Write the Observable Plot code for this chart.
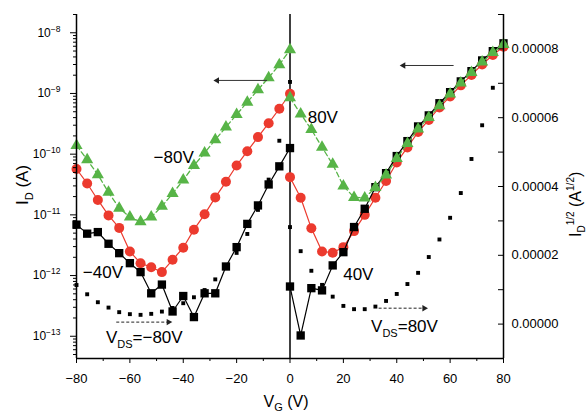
<!DOCTYPE html>
<html><head><meta charset="utf-8">
<script src="https://cdn.jsdelivr.net/npm/d3@7"></script>
<script src="https://cdn.jsdelivr.net/npm/@observablehq/plot@0.6"></script>
<style>
body{margin:0;background:#fff;}
#chart svg{font-family:"Liberation Sans",Arial,sans-serif;}
</style></head><body><div id="chart"></div>
<script>
// Gate voltage sweeps (V)
const vgNeg = [-80,-76,-72,-68,-64,-60,-56,-52,-48,-44,-40,-36,-32,-28,-24,-20,-16,-12,-8,-4,0];
const vgPos = [0,4,8,12,16,20,24,28,32,36,40,44,48,52,56,60,64,68,72,76,80];

// I_D (A), |V_DS| = 80 V (green triangles)
const id80neg = [1.39e-10,8.1e-11,4.6e-11,2.35e-11,1.29e-11,9.2e-12,7.7e-12,9.2e-12,1.38e-11,2.24e-11,3.76e-11,6.5e-11,1.05e-10,1.73e-10,2.79e-10,4.5e-10,7.2e-10,1.15e-9,1.82e-9,2.97e-9,5.25e-9];
const id80pos = [8.5e-10,4.6e-10,2.55e-10,1.3e-10,6.8e-11,3.0e-11,1.94e-11,1.9e-11,2.83e-11,4.54e-11,8.5e-11,1.5e-10,2.6e-10,4.03e-10,6.3e-10,9.8e-10,1.49e-9,2.22e-9,3.3e-9,4.73e-9,6.4e-9];
// I_D (A), intermediate |V_DS| (red circles)
const id60neg = [5.7e-11,3.29e-11,1.76e-11,9.8e-12,6.1e-12,2.49e-12,1.6e-12,1.37e-12,1.14e-12,1.82e-12,2.87e-12,5.7e-12,1.02e-11,1.94e-11,3.5e-11,6.5e-11,1.12e-10,1.91e-10,3.24e-10,5.6e-10,9.9e-10];
const id60pos = [4.18e-11,1.91e-11,6.0e-12,2.49e-12,2.38e-12,2.94e-12,5.4e-12,1.0e-11,1.91e-11,3.62e-11,7.3e-11,1.29e-10,2.32e-10,3.66e-10,5.9e-10,8.9e-10,1.36e-9,2.02e-9,3.0e-9,4.3e-9,5.9e-9];
// I_D (A), |V_DS| = 40 V (black squares)
const id40neg = [6.9e-12,4.9e-12,5.2e-12,3.34e-12,2.34e-12,1.6e-12,1.14e-12,5.1e-13,7.1e-13,2.56e-13,4.6e-13,2.07e-13,5.1e-13,5.1e-13,1.41e-12,2.94e-12,7.1e-12,1.43e-11,3.17e-11,6.3e-11,1.26e-10];
const id40pos = [6.6e-13,1.03e-13,6.2e-13,5.7e-13,1.47e-12,2.43e-12,6.3e-12,1.26e-11,2.86e-11,4.86e-11,9.3e-11,1.64e-10,2.86e-10,4.35e-10,6.9e-10,1.05e-9,1.58e-9,2.33e-9,3.5e-9,4.98e-9,6.7e-9];
// I_D^(1/2) (A^(1/2)), |V_DS| = 80 V (small squares, right axis)
const sqrtNeg = [1.136e-5,8.67e-6,6.36e-6,4.8e-6,3.47e-6,2.89e-6,2.69e-6,2.98e-6,3.64e-6,4.7e-6,6.07e-6,7.8e-6,9.9e-6,1.3e-5,1.68e-5,2.07e-5,2.62e-5,3.32e-5,4.2e-5,5.33e-5,7.04e-5];
const sqrtPos = [2.82e-5,2.12e-5,1.55e-5,1.14e-5,7.98e-6,5.29e-6,4.34e-6,4.34e-6,5.09e-6,6.73e-6,8.76e-6,1.165e-5,1.49e-5,1.95e-5,2.46e-5,3.09e-5,3.81e-5,4.8e-5,5.78e-5,6.87e-5,8.0e-5];

// Axes
const xTicks = [-80,-60,-40,-20,0,20,40,60,80];
const xMinor = [-70,-50,-30,-10,10,30,50,70];
const leftDecades = [1e-8,1e-9,1e-10,1e-11,1e-12,1e-13];
const leftExponents = ["−8","−9","−10","−11","−12","−13"];
const leftMinorMult = [2,3,4,5,6,7,8,9];
const rightTicks = [0,2e-5,4e-5,6e-5,8e-5];
const rightLabels = ["0.00000","0.00002","0.00004","0.00006","0.00008"];
const rightMinor = [-1e-5,1e-5,3e-5,5e-5,7e-5,9e-5];
const leftDomain = [4.3e-14, 2e-8];
const rightDomain = [-1e-5, 9e-5];

// Annotations
const annText = ["−80V","80V","−40V","40V","VDS=−80V","VDS=80V"];
const annX = [-43.6, 12.3, -70.1, 25.6, -54.6, 42.9];
const annY = [8.95e-11, 3.94e-10, 1.14e-12, 1.02e-12, 9.4e-14, 1.42e-13];
const arrX1 = [-8.6, 61.3, -65.1, 33.2];
const arrX2 = [-27.3, 42.5, -45.5, 50.3];
const arrY = [1.64e-9, 2.89e-9, 1.71e-13, 2.9e-13];
const arrDashed = [false, false, true, true];

// map right-axis values onto the left (log) scale
const LT = Math.log10(leftDomain[1]), LB = Math.log10(leftDomain[0]);
const toLeft = v => 10 ** (LT - (rightDomain[1] - v) / (rightDomain[1] - rightDomain[0]) * (LT - LB));

const rows = (vg, vals, sweep) => vg.map((x, i) => ({vg: x, v: vals[i], sweep}));
const green = [...rows(vgNeg, id80neg, "n"), ...rows(vgPos, id80pos, "p")];
const red = [...rows(vgNeg, id60neg, "n"), ...rows(vgPos, id60pos, "p")];
const black = [...rows(vgNeg, id40neg, "n"), ...rows(vgPos, id40pos, "p")];
const sq = [...rows(vgNeg, sqrtNeg, "n"), ...rows(vgPos, sqrtPos, "p")];

const leftMinor = [];
for (const d of [1e-14,1e-13,1e-12,1e-11,1e-10,1e-9,1e-8]) for (const m of leftMinorMult) { const v = m*d; if (v >= leftDomain[0] && v <= leftDomain[1]*1.0001) leftMinor.push(v); }

const leftMap = new Map(leftDecades.map((t, i) => [t, "10|" + leftExponents[i]]));
const rightLab = rightTicks.map((t, i) => ({t, label: rightLabels[i]}));

const ann = annText.map((t, i) => ({t, x: annX[i], y: annY[i]}));
const arrows = arrX1.map((x1, i) => ({x1, x2: arrX2[i], y: arrY[i], dashed: arrDashed[i], dir: arrX2[i] > x1 ? 90 : -90}));

const GREEN = "#57b447", RED = "#ec3a2e";
const frameW = 587 - 76 - 84;

const chart = Plot.plot({
  width: 587, height: 413,
  marginLeft: 76, marginRight: 84, marginTop: 14, marginBottom: 55,
  style: {fontSize: "13px", color: "black", background: "white", overflow: "visible"},
  x: {domain: [-80, 80], label: null},
  y: {type: "log", domain: leftDomain, label: null},
  marks: [
    Plot.ruleX([0], {stroke: "black", strokeWidth: 1.5}),
    Plot.dot(sq, {x: "vg", y: d => toLeft(d.v), symbol: "square", r: 2.2, fill: "black"}),
    Plot.line(red, {x: "vg", y: "v", z: "sweep", stroke: RED, strokeWidth: 1.2}),
    Plot.dot(red, {x: "vg", y: "v", r: 5, fill: RED}),
    Plot.line(black, {x: "vg", y: "v", z: "sweep", stroke: "black", strokeWidth: 1.2}),
    Plot.dot(black, {x: "vg", y: "v", symbol: "square", r: 4.7, fill: "black"}),
    Plot.line(green, {x: "vg", y: "v", z: "sweep", stroke: GREEN, strokeWidth: 1.3, strokeDasharray: "5,3"}),
    Plot.dot(green, {x: "vg", y: "v", symbol: "triangle", r: 4.5, fill: GREEN}),
    Plot.link(arrows.filter(d => !d.dashed), {x1: "x1", x2: "x2", y1: "y", y2: "y", stroke: "#333", strokeWidth: 1}),
    Plot.link(arrows.filter(d => d.dashed), {x1: "x1", x2: "x2", y1: "y", y2: "y", stroke: "#222", strokeWidth: 1, strokeDasharray: "3,2"}),
    Plot.dot(arrows, {x: "x2", y: "y", symbol: "triangle", r: 2.4, rotate: "dir", fill: "#222"}),
    Plot.text(ann, {x: "x", y: "y", text: "t", fontSize: 17, fill: "black"}),
    Plot.ruleX([-80, 80], {stroke: "black", strokeWidth: 1.5}),
    Plot.ruleY([leftDomain[0]], {stroke: "black", strokeWidth: 1.5}),
    Plot.axisX(xTicks, {tickSize: 5, tickPadding: 10, label: null, fontSize: 13}),
    Plot.axisX(xMinor, {tickSize: 3, tickFormat: () => "", label: null}),
    Plot.axisY(leftDecades, {anchor: "left", tickSize: 6, tickPadding: 10, label: null, tickFormat: d => leftMap.get(d)}),
    Plot.axisY(leftMinor, {anchor: "left", tickSize: 3, label: null, tickFormat: () => ""}),
    // right axis: inward ticks at the right frame edge
    Plot.axisY([...rightTicks, ...rightMinor].map(toLeft), {anchor: "left", dx: frameW, tickSize: 5, label: null, tickFormat: () => ""}),
    Plot.text(rightLab, {y: d => toLeft(d.t), text: "label", frameAnchor: "right", textAnchor: "start", dx: 8, fontSize: 13, fill: "black"})
  ]
});
document.getElementById("chart").appendChild(chart);

const svg = d3.select(chart);
svg.selectAll("text").each(function() {
  const s = d3.select(this);
  const t = this.textContent;
  if (t.includes("|")) {
    const [base, exp] = t.split("|");
    s.text(null).attr("font-size", "12px");
    s.append("tspan").text(base);
    s.append("tspan").attr("dy", -5).attr("font-size", "8.5px").text(exp);
  } else if (t.startsWith("VDS")) {
    const rest = t.slice(3);
    s.text(null);
    s.append("tspan").text("V");
    s.append("tspan").attr("dy", 5).attr("font-size", "11px").text("DS");
    s.append("tspan").attr("dy", -5).text(rest);
  }
});

// axis titles
const ly = svg.append("text").attr("transform", "translate(28,185) rotate(-90)")
  .attr("text-anchor", "middle").attr("font-size", "17px").attr("fill", "black");
ly.append("tspan").text("I");
ly.append("tspan").attr("dy", 5).attr("font-size", "11px").text("D");
ly.append("tspan").attr("dy", -5).text(" (A)");

const lx = svg.append("text").attr("x", 286).attr("y", 407)
  .attr("text-anchor", "middle").attr("font-size", "16px").attr("fill", "black");
lx.append("tspan").text("V");
lx.append("tspan").attr("dy", 4).attr("font-size", "11px").text("G");
lx.append("tspan").attr("dy", -4).text(" (V)");

const ry = svg.append("text").attr("transform", "translate(581,237) rotate(-90)")
  .attr("text-anchor", "start").attr("font-size", "16px").attr("fill", "black");
ry.append("tspan").text("I");
ry.append("tspan").attr("dy", 4).attr("font-size", "10px").text("D");
ry.append("tspan").attr("dy", -11).attr("font-size", "10px").text("1/2");
ry.append("tspan").attr("dy", 7).text(" (A");
ry.append("tspan").attr("dy", -7).attr("font-size", "10px").text("1/2");
ry.append("tspan").attr("dy", 7).text(")");
</script></body></html>
